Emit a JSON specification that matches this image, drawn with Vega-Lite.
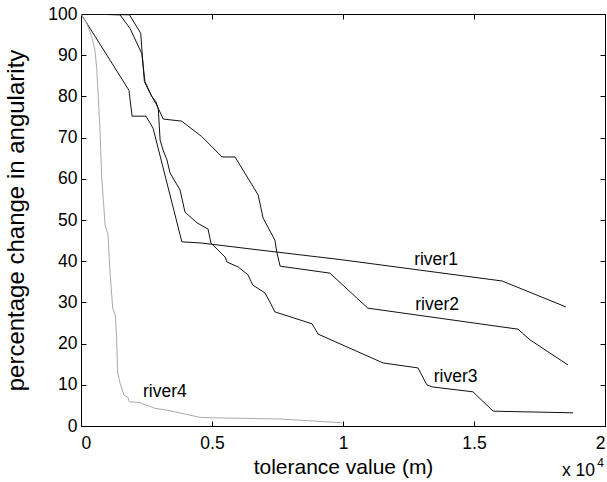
{
  "$schema": "https://vega.github.io/schema/vega-lite/v6.json",
  "width": 524,
  "height": 412,
  "autosize": "none",
  "padding": {"left": 81, "top": 14, "right": 2, "bottom": 56},
  "background": "white",
  "config": {
    "view": {"stroke": "black", "strokeWidth": 1},
    "font": "Liberation Sans",
    "axis": {
      "domain": false,
      "grid": false,
      "tickColor": "black",
      "tickSize": -5,
      "labelFont": "Liberation Sans",
      "labelFontSize": 17.5,
      "labelColor": "black",
      "titleFont": "Liberation Sans",
      "titleFontSize": 21,
      "titleFontWeight": "normal",
      "titleColor": "black"
    }
  },
  "datasets": {
    "lines": [
      {"river": "river1", "tol": 0, "pct": 100},
      {"river": "river1", "tol": 1830, "pct": 81.5},
      {"river": "river1", "tol": 1950, "pct": 75.2},
      {"river": "river1", "tol": 2480, "pct": 75.2},
      {"river": "river1", "tol": 2750, "pct": 72.3},
      {"river": "river1", "tol": 3850, "pct": 44.7},
      {"river": "river1", "tol": 4620, "pct": 44.4},
      {"river": "river1", "tol": 6830, "pct": 42.7},
      {"river": "river1", "tol": 9890, "pct": 40.4},
      {"river": "river1", "tol": 16070, "pct": 35.2},
      {"river": "river1", "tol": 18510, "pct": 28.9},

      {"river": "river2", "tol": 0, "pct": 100},
      {"river": "river2", "tol": 1850, "pct": 99.8},
      {"river": "river2", "tol": 2280, "pct": 95.3},
      {"river": "river2", "tol": 2340, "pct": 90.0},
      {"river": "river2", "tol": 2420, "pct": 83.6},
      {"river": "river2", "tol": 2570, "pct": 81.6},
      {"river": "river2", "tol": 2740, "pct": 79.6},
      {"river": "river2", "tol": 2890, "pct": 77.9},
      {"river": "river2", "tol": 3140, "pct": 74.5},
      {"river": "river2", "tol": 3840, "pct": 74.0},
      {"river": "river2", "tol": 4600, "pct": 70.3},
      {"river": "river2", "tol": 5040, "pct": 67.5},
      {"river": "river2", "tol": 5380, "pct": 65.3},
      {"river": "river2", "tol": 5880, "pct": 65.3},
      {"river": "river2", "tol": 6760, "pct": 56.1},
      {"river": "river2", "tol": 6950, "pct": 50.5},
      {"river": "river2", "tol": 7400, "pct": 45.1},
      {"river": "river2", "tol": 7480, "pct": 42.0},
      {"river": "river2", "tol": 7600, "pct": 38.8},
      {"river": "river2", "tol": 9500, "pct": 37.1},
      {"river": "river2", "tol": 10950, "pct": 28.6},
      {"river": "river2", "tol": 16680, "pct": 23.5},
      {"river": "river2", "tol": 17140, "pct": 20.9},
      {"river": "river2", "tol": 18590, "pct": 14.8},

      {"river": "river3", "tol": 0, "pct": 100},
      {"river": "river3", "tol": 1490, "pct": 99.8},
      {"river": "river3", "tol": 1870, "pct": 96.5},
      {"river": "river3", "tol": 2320, "pct": 90.4},
      {"river": "river3", "tol": 2440, "pct": 83.6},
      {"river": "river3", "tol": 2700, "pct": 80.0},
      {"river": "river3", "tol": 2860, "pct": 78.7},
      {"river": "river3", "tol": 2950, "pct": 76.9},
      {"river": "river3", "tol": 3020, "pct": 69.4},
      {"river": "river3", "tol": 3130, "pct": 67.0},
      {"river": "river3", "tol": 3280, "pct": 64.6},
      {"river": "river3", "tol": 3400, "pct": 61.4},
      {"river": "river3", "tol": 3780, "pct": 57.3},
      {"river": "river3", "tol": 3970, "pct": 51.9},
      {"river": "river3", "tol": 4430, "pct": 49.3},
      {"river": "river3", "tol": 4850, "pct": 47.8},
      {"river": "river3", "tol": 4960, "pct": 44.4},
      {"river": "river3", "tol": 5500, "pct": 41.0},
      {"river": "river3", "tol": 5570, "pct": 39.8},
      {"river": "river3", "tol": 6000, "pct": 38.6},
      {"river": "river3", "tol": 6370, "pct": 36.7},
      {"river": "river3", "tol": 6560, "pct": 34.2},
      {"river": "river3", "tol": 7020, "pct": 32.3},
      {"river": "river3", "tol": 7210, "pct": 30.1},
      {"river": "river3", "tol": 7400, "pct": 27.7},
      {"river": "river3", "tol": 8820, "pct": 24.8},
      {"river": "river3", "tol": 9050, "pct": 22.3},
      {"river": "river3", "tol": 11530, "pct": 15.3},
      {"river": "river3", "tol": 12860, "pct": 14.1},
      {"river": "river3", "tol": 13200, "pct": 10.0},
      {"river": "river3", "tol": 13400, "pct": 9.5},
      {"river": "river3", "tol": 14960, "pct": 8.3},
      {"river": "river3", "tol": 15730, "pct": 3.6},
      {"river": "river3", "tol": 18780, "pct": 3.2},

      {"river": "river4", "tol": 0, "pct": 100},
      {"river": "river4", "tol": 220, "pct": 97.7},
      {"river": "river4", "tol": 410, "pct": 94.5},
      {"river": "river4", "tol": 530, "pct": 91.3},
      {"river": "river4", "tol": 600, "pct": 86.8},
      {"river": "river4", "tol": 660, "pct": 79.9},
      {"river": "river4", "tol": 730, "pct": 71.1},
      {"river": "river4", "tol": 790, "pct": 60.5},
      {"river": "river4", "tol": 920, "pct": 48.8},
      {"river": "river4", "tol": 1030, "pct": 46.4},
      {"river": "river4", "tol": 1110, "pct": 37.1},
      {"river": "river4", "tol": 1210, "pct": 28.6},
      {"river": "river4", "tol": 1310, "pct": 26.9},
      {"river": "river4", "tol": 1360, "pct": 21.4},
      {"river": "river4", "tol": 1400, "pct": 12.9},
      {"river": "river4", "tol": 1490, "pct": 10.4},
      {"river": "river4", "tol": 1640, "pct": 7.5},
      {"river": "river4", "tol": 1800, "pct": 6.9},
      {"river": "river4", "tol": 1840, "pct": 5.9},
      {"river": "river4", "tol": 2230, "pct": 5.7},
      {"river": "river4", "tol": 2820, "pct": 4.3},
      {"river": "river4", "tol": 3400, "pct": 3.7},
      {"river": "river4", "tol": 4540, "pct": 2.1},
      {"river": "river4", "tol": 4920, "pct": 2.0},
      {"river": "river4", "tol": 7600, "pct": 1.7},
      {"river": "river4", "tol": 9950, "pct": 0.8}
    ],
    "labels": [
      {"label": "river1", "tol": 13550, "pct": 40.3},
      {"label": "river2", "tol": 13590, "pct": 29.4},
      {"label": "river3", "tol": 14300, "pct": 11.9},
      {"label": "river4", "tol": 3200, "pct": 8.3}
    ],
    "notesBase": [
      {"label": "x 10", "tol": 19620, "pct": -10.9}
    ],
    "notesExp": [
      {"label": "4", "tol": 19700, "pct": -9.0}
    ]
  },
  "layer": [
    {
      "data": {"name": "lines"},
      "mark": {"type": "line", "strokeWidth": 1, "clip": true},
      "encoding": {
        "x": {
          "field": "tol", "type": "quantitative",
          "scale": {"domain": [0, 20000], "nice": false},
          "axis": {
            "orient": "bottom",
            "values": [0, 5000, 10000, 15000, 20000],
            "labelExpr": "'' + datum.value / 10000",
            "labelPadding": 13,
            "title": "tolerance value (m)",
            "titlePadding": 5
          }
        },
        "y": {
          "field": "pct", "type": "quantitative",
          "scale": {"domain": [0, 100], "nice": false},
          "axis": {
            "orient": "left",
            "values": [0, 10, 20, 30, 40, 50, 60, 70, 80, 90, 100],
            "labelPadding": 9,
            "title": "percentage change in angularity",
            "titleFontSize": 24,
            "titlePadding": 19
          }
        },
        "color": {
          "field": "river", "type": "nominal",
          "scale": {"domain": ["river1", "river2", "river3", "river4"], "range": ["#111111", "#111111", "#111111", "#aaaaaa"]},
          "legend": null
        }
      }
    },
    {
      "data": {"name": "lines"},
      "mark": {"type": "line", "opacity": 0},
      "encoding": {
        "x": {
          "field": "tol", "type": "quantitative",
          "axis": {"orient": "top", "values": [0, 5000, 10000, 15000, 20000], "labels": false, "title": null}
        },
        "y": {
          "field": "pct", "type": "quantitative",
          "axis": {"orient": "right", "values": [0, 10, 20, 30, 40, 50, 60, 70, 80, 90, 100], "labels": false, "title": null}
        },
        "detail": {"field": "river"}
      }
    },
    {
      "data": {"name": "labels"},
      "mark": {"type": "text", "fontSize": 17.5, "font": "Liberation Sans", "color": "black", "align": "center", "baseline": "middle"},
      "encoding": {
        "x": {"field": "tol", "type": "quantitative", "axis": null},
        "y": {"field": "pct", "type": "quantitative", "axis": null},
        "text": {"field": "label"}
      }
    },
    {
      "data": {"name": "notesBase"},
      "mark": {"type": "text", "fontSize": 17.5, "font": "Liberation Sans", "color": "black", "align": "right", "baseline": "middle"},
      "encoding": {
        "x": {"field": "tol", "type": "quantitative", "axis": null},
        "y": {"field": "pct", "type": "quantitative", "axis": null},
        "text": {"field": "label"}
      }
    },
    {
      "data": {"name": "notesExp"},
      "mark": {"type": "text", "fontSize": 12, "font": "Liberation Sans", "color": "black", "align": "left", "baseline": "middle"},
      "encoding": {
        "x": {"field": "tol", "type": "quantitative", "axis": null},
        "y": {"field": "pct", "type": "quantitative", "axis": null},
        "text": {"field": "label"}
      }
    }
  ],
  "resolve": {"axis": {"x": "independent", "y": "independent"}}
}
